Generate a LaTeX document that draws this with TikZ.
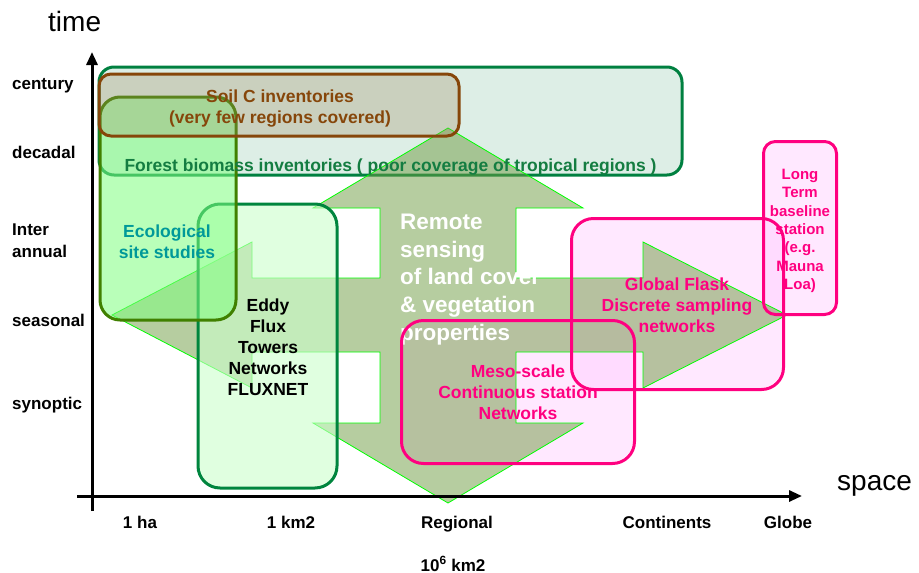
\documentclass[tikz,border=0pt]{standalone}
\usepackage{fontspec}
\setmainfont{Liberation Sans}
\usetikzlibrary{arrows.meta}
\definecolor{forestC}{RGB}{0,128,64}
\definecolor{forestT}{RGB}{20,125,65}
\definecolor{forestFill}{RGB}{221,238,230}
\definecolor{soilC}{RGB}{134,70,10}
\definecolor{soilFill}{RGB}{160,140,100}
\definecolor{ecoC}{RGB}{64,128,0}
\definecolor{ecoFill}{RGB}{128,255,128}
\definecolor{ecoText}{RGB}{0,153,153}
\definecolor{eddyC}{RGB}{0,133,62}
\definecolor{eddyFill}{RGB}{204,255,204}
\definecolor{pinkC}{RGB}{255,0,128}
\definecolor{pinkFill}{RGB}{255,204,255}
\definecolor{arrowFill}{RGB}{110,155,65}
\definecolor{arrowLine}{RGB}{0,255,0}
\tikzset{
  rbox/.style={rectangle, inner sep=0pt, line width=3pt},
  axisline/.style={line width=3pt, -{Triangle[length=13pt,width=11pt]}},
  ylbl/.style={font=\fontsize{17}{20}\selectfont\bfseries, anchor=base west, inner sep=0pt},
  xlbl/.style={font=\fontsize{17}{20}\selectfont\bfseries, anchor=base, inner sep=0pt},
  btxt/.style={font=\fontsize{17.5}{21}\selectfont\bfseries, align=center, anchor=north, inner sep=0pt},
  big/.style={font=\fontsize{28}{32}\selectfont, inner sep=0pt, anchor=base west},
}
\begin{document}
\begin{tikzpicture}[x=1pt,y=-1pt]
\useasboundingbox (0,0) rectangle (919,573);
% forest biomass box
\node[rbox, draw=forestC, fill=forestFill, rounded corners=15pt, minimum width=583pt, minimum height=108pt] (forest) at (390.5,121) {};
% pink box fills
\node[rbox, fill=pinkFill, fill opacity=.45, rounded corners=22pt, minimum width=209pt, minimum height=168pt] (global) at (677.5,304) {};
\node[rbox, fill=pinkFill, fill opacity=.45, rounded corners=22pt, minimum width=230pt, minimum height=140pt] (meso) at (518,392) {};
\node[rbox, fill=pinkFill, fill opacity=.45, rounded corners=12pt, minimum width=70pt, minimum height=170pt] (longterm) at (800,228) {};
% four-way arrow
\fill[arrowFill, fill opacity=.5] (448,128) -- (583,208) -- (516,208) -- (516,278) -- (643,278) -- (643,242) -- (787,315) -- (643,388) -- (643,352) -- (516,352) -- (516,423) -- (583,423) -- (448,503) -- (313,423) -- (380,423) -- (380,352) -- (252,352) -- (252,388) -- (112,315) -- (252,242) -- (252,278) -- (380,278) -- (380,208) -- (313,208) -- cycle;
\draw[arrowLine, line width=0.8pt, line join=miter] (448,128) -- (583,208) -- (516,208) -- (516,278) -- (643,278) -- (643,242) -- (787,315) -- (643,388) -- (643,352) -- (516,352) -- (516,423) -- (583,423) -- (448,503) -- (313,423) -- (380,423) -- (380,352) -- (252,352) -- (252,388) -- (112,315) -- (252,242) -- (252,278) -- (380,278) -- (380,208) -- (313,208) -- cycle;
% remote sensing text
\node[font=\fontsize{22.5}{27.7}\selectfont\bfseries, align=left, anchor=north west, inner sep=0pt, text=white] (rs) at (400,213.8) {Remote\\sensing\\of land cover\\\& vegetation\\properties};
% pink borders
\draw[pinkC, line width=3pt, rounded corners=22pt] (global.south west) rectangle (global.north east);
\draw[pinkC, line width=3pt, rounded corners=22pt] (meso.south west) rectangle (meso.north east);
\draw[pinkC, line width=3pt, rounded corners=12pt] (longterm.south west) rectangle (longterm.north east);
% eddy box
\node[rbox, draw=eddyC, fill=eddyFill, fill opacity=.6, draw opacity=1, rounded corners=22pt, minimum width=139pt, minimum height=284pt] (eddy) at (267.5,346) {};
% ecological box
\node[rbox, draw=ecoC, fill=ecoFill, fill opacity=.55, draw opacity=1, rounded corners=20pt, minimum width=136pt, minimum height=223pt] (eco) at (168,208.5) {};
% soil box
\node[rbox, draw=soilC, fill=soilFill, fill opacity=.3, draw opacity=1, rounded corners=12pt, minimum width=360pt, minimum height=62pt] (soil) at (279,105) {};
% axes
\coordinate (ybot) at (92,511);
\coordinate (ytop) at (92,52);
\coordinate (xleft) at (77,496);
\coordinate (xright) at (802,496);
\draw[axisline] (ybot) -- (ytop);
\draw[axisline] (xleft) -- (xright);
\node[big] (time) at (48,31) {time};
\node[big] (space) at (837,490) {space};
% axis labels
\node[ylbl] (century) at (12,89) {century};
\node[ylbl] (decadal) at (12,158) {decadal};
\node[ylbl] (inter) at (12,235) {Inter};
\node[ylbl] (annual) at (12,257) {annual};
\node[ylbl] (seasonal) at (12,326) {seasonal};
\node[ylbl] (synoptic) at (12,409) {synoptic};
\node[xlbl] (ha) at (140,528) {1 ha};
\node[xlbl] (km) at (291,528) {1 km2};
\node[xlbl] (regional) at (457,528) {Regional};
\node[xlbl] (continents) at (667,528) {Continents};
\node[xlbl] (globe) at (788,528) {Globe};
\node[xlbl] (sixkm) at (453,571) {10\textsuperscript{6} km2};
% box texts
\node[btxt, text=soilC] (soiltxt) at (280,89.4) {Soil C inventories\\(very few regions covered)};
\node[font=\fontsize{17.5}{21}\selectfont\bfseries, anchor=base, inner sep=0pt, text=forestT] (foresttxt) at (390.5,171) {Forest biomass inventories ( poor coverage of tropical regions )};
\node[btxt, text=ecoText] (ecotxt) at (167,224.4) {Ecological\\site studies};
\node[btxt, text=black] (eddytxt) at (268,298.4) {Eddy\\Flux\\Towers\\Networks\\FLUXNET};
\node[btxt, text=pinkC] (mesotxt) at (518,364.4) {Meso-scale\\Continuous station\\Networks};
\node[btxt, text=pinkC] (globaltxt) at (677,277.4) {Global Flask\\Discrete sampling\\networks};
\node[font=\fontsize{15}{18.3}\selectfont\bfseries, align=center, anchor=north, inner sep=0pt, text=pinkC] (longtxt) at (800,169) {Long\\Term\\baseline\\station\\(e.g.\\Mauna\\Loa)};
\end{tikzpicture}
\end{document}
